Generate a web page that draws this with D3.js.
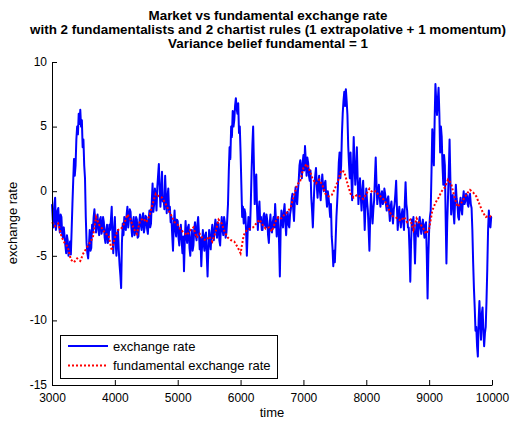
<!DOCTYPE html>
<html><head><meta charset="utf-8">
<script src="https://cdn.jsdelivr.net/npm/d3@7"></script>
<style>
body{margin:0;background:#fff}
svg{display:block}
text{font-family:Arial,"Liberation Sans",Helvetica,sans-serif;fill:#000}
</style>
</head><body>
<svg id="c" width="510" height="423"></svg>
<script>
const titleLines = [
  "Market vs fundamental exchange rate",
  "with 2 fundamentalists and 2 chartist rules (1 extrapolative + 1 momentum)",
  "Variance belief fundamental = 1"
];
const xLabel = "time";
const yLabel = "exchange rate";
const legendLabels = ["exchange rate", "fundamental exchange rate"];
const xTicks = [3000, 4000, 5000, 6000, 7000, 8000, 9000, 10000];
const yTicks = [-15, -10, -5, 0, 5, 10];

// exchange rate, sampled every 12.5 time units from t = 3000 (one row = 100 time units)
const rateStart = 3000, rateStep = 12.5;
const exchangeRate = [
  -1.0, -2.2, -2.8, -1.0, -0.5, -3.0, -2.5, -1.5,
  -1.3, -2.6, -3.2, -1.8, -2.0, -3.4, -3.6, -2.8,
  -3.5, -4.2, -4.8, -3.4, -3.8, -5.0, -4.6, -3.9,
  -4.9, -3.0, -1.0, 0.8, 2.5, 1.2, 2.0, 4.0,
  5.0, 4.4, 6.0, 5.2, 6.3, 5.0, 5.5, 3.4,
  4.0, 2.0, 1.0, -2.0, -4.0, -4.8, -5.2, -4.2,
  -3.0, -4.6, -4.4, -2.6, -3.2, -2.0, -1.4, -2.4,
  -3.2, -2.2, -1.8, -3.0, -3.4, -2.2, -2.0, -3.3,
  -3.0, -2.0, -2.4, -3.6, -4.0, -3.0, -2.6, -4.0,
  -3.8, -2.6, -3.0, -2.2, -1.2, -3.5, -4.8, -3.0,
  -2.0, -4.0, -5.0, -3.6, -3.0, -4.6, -5.7, -6.5,
  -7.5, -4.0, -2.5, -3.4, -2.0, -2.6, -3.0, -1.8,
  -1.2, -2.8, -2.2, -1.4, -1.6, -2.8, -3.5, -2.4,
  -2.0, -3.4, -3.2, -2.0, -2.2, -3.6, -3.5, -2.5,
  -1.8, -2.6, -3.0, -2.0, -1.7, -3.2, -2.8, -1.9,
  -2.0, -2.9, -3.3, -2.2, -1.5, -2.8, -2.5, -0.8,
  0.6, -1.6, -1.0, 0.2, -0.4, -1.5, 0.3, 1.2,
  2.1, 0.2, -1.2, 0.0, 1.5, -0.8, -0.5, -1.4,
  1.2, -0.4, -1.7, -0.5, 0.2, -1.6, -1.2, -2.4,
  -2.0, -3.4, -4.6, -2.6, -1.5, -3.0, -3.5, -2.2,
  -2.3, -3.6, -4.2, -3.0, -2.6, -3.8, -4.8, -3.5,
  -6.2, -3.8, -2.3, -3.5, -4.0, -2.8, -2.6, -4.4,
  -5.0, -3.6, -3.0, -4.6, -4.2, -3.0, -2.4, -3.4,
  -3.8, -2.6, -2.0, -3.2, -4.5, -3.6, -5.8, -4.2,
  -3.0, -4.0, -4.6, -3.4, -3.2, -5.0, -6.6, -4.4,
  -3.0, -4.0, -4.5, -3.2, -2.6, -3.6, -3.8, -2.8,
  -2.2, -3.0, -3.6, -2.4, -2.5, -3.8, -4.2, -2.8,
  -2.0, -3.0, -3.4, -2.0, -2.4, -3.6, -3.2, -2.2,
  -1.0, 1.5, 3.4, 2.5, 5.0, 4.2, 6.2, 5.0,
  5.5, 6.6, 7.2, 6.4, 6.0, 6.8, 4.5, 5.0,
  3.0, 0.5, -2.0, -1.2, -2.5, -1.4, -1.7, -3.0,
  -5.0, -3.2, -2.0, -2.8, -3.0, -1.0, 1.5, 3.5,
  5.0, 2.0, -1.0, 0.2, 1.3, -1.4, -3.0, -1.6,
  -0.8, -2.4, -2.0, -3.0, -3.0, -2.0, -1.7, -2.6,
  -2.8, -1.8, -2.3, -3.4, -4.0, -2.6, -1.8, -3.0,
  -3.2, -2.4, -2.0, -2.8, -1.0, -2.2, -3.5, -2.4,
  -2.0, -4.0, -6.6, -3.0, -1.5, -2.2, -2.8, -1.6,
  -1.0, -2.4, -3.4, -2.0, -1.6, -2.6, -2.8, -1.8,
  -1.4, -0.6, -0.2, -1.4, -2.3, -0.8, 0.3, -0.6,
  -1.0, 0.0, 0.8, 2.0, 2.4, 1.6, 1.0, 2.2,
  2.8, 1.6, 3.5, 2.4, 1.2, 2.6, 2.2, 1.2,
  0.8, 1.6, -0.5, -1.5, -2.8, -1.0, 0.5, 1.2,
  1.8, 0.4, -0.5, 0.6, 1.2, 0.0, -0.7, 0.4,
  1.3, 0.4, 0.0, 0.6, 0.8, -0.4, -1.2, 0.0,
  -0.5, -1.2, -2.0, -1.0, -3.5, -4.4, -5.8, -4.6,
  -5.5, -3.8, -2.0, -0.8, 0.5, 2.2, 3.0, 1.0,
  2.0, 4.4, 6.0, 7.0, 7.7, 6.6, 7.9, 7.0,
  5.9, 3.5, 2.1, 1.0, 3.0, 1.2, -0.7, 1.8,
  4.2, 2.0, 0.5, 1.6, 3.4, 1.0, -1.0, 0.0,
  1.0, -0.4, -1.5, 0.0, 0.8, -1.0, -3.0, -1.2,
  0.2, -0.8, -1.5, -3.0, -4.6, -2.0, -0.2, -1.4,
  -2.5, -1.4, -0.7, 1.0, 2.6, 0.6, -1.0, -0.2,
  0.5, -0.4, -1.2, -0.3, 0.0, -1.0, -0.8, 0.2,
  -0.2, -1.0, -1.5, -0.6, -0.4, -1.4, -2.3, -1.2,
  -0.8, -1.8, -2.5, -1.4, -1.0, -0.2, 0.8, -1.2,
  -3.0, -2.0, -1.2, -2.2, -2.8, -1.8, -1.4, -2.4,
  -3.0, -1.0, 0.7, -1.0, -1.5, -2.8, -2.8, -4.5,
  -7.0, -4.0, -2.2, -3.0, -2.0, -3.6, -5.6, -3.4,
  -2.4, -3.0, -3.5, -2.4, -2.0, -2.8, -3.3, -2.6,
  -2.2, -3.0, -3.6, -2.6, -2.4, -5.0, -8.3, -5.0,
  -3.0, -2.0, -1.5, 1.5, 4.8, 3.2, 2.0, 5.5,
  8.3, 7.0, 5.9, 7.0, 8.0, 6.0, 3.0, 5.0,
  4.2, 2.0, 0.5, 2.8, 2.0, -2.0, -5.6, -2.5,
  -0.5, 1.5, 4.0, 1.0, -1.8, -0.4, -0.3, -1.6,
  -2.5, -0.8, 0.5, -0.6, -1.0, -2.0, -2.2, -1.0,
  -0.5, -1.4, -1.8, -0.6, 0.0, -1.0, -0.8, -0.2,
  -0.3, -1.0, -1.2, -0.4, -0.2, -1.0, -1.3, -3.0,
  -5.5, -7.5, -9.0, -10.8, -10.5, -12.0, -12.8, -10.0,
  -8.5, -10.2, -11.5, -9.5, -9.0, -10.8, -12.0, -11.0,
  -10.5, -8.5, -6.0, -3.0, -1.5, -2.6, -2.8, -2.0,
  -2.0
];

// fundamental exchange rate, sampled every 50 time units from t = 3000
const fundStart = 3000, fundStep = 50;
const fundamentalRate = [
  -2.4, -2.7, -2.5, -3.5, -4.0, -4.3, -5.3, -5.5, -5.2, -5.4,
  -4.8, -4.4, -4.0, -3.6, -2.0, -2.6, -2.9, -3.3, -3.4, -4.6,
  -3.6, -3.0, -2.9, -2.5, -1.8, -2.2, -2.9, -3.3, -2.3, -2.1,
  -2.4, -1.9, -1.0, -0.2, -0.4, -0.5, -0.9, -1.4, -1.9, -2.4,
  -2.6, -3.0, -3.2, -3.4, -3.0, -2.8, -3.6, -3.3, -3.7, -3.8,
  -3.5, -3.9, -3.2, -2.2, -2.5, -3.2, -3.6, -3.8, -3.9, -4.3,
  -4.8, -3.4, -3.0, -2.9, -2.8, -2.5, -2.2, -2.6, -2.9, -2.8,
  -3.1, -2.4, -2.0, -2.1, -1.8, -1.6, -1.2, -0.3, 0.5, 0.8,
  1.8, 2.1, 1.6, 0.9, 0.6, 0.9, 0.5, -0.2, -0.4, -0.3,
  0.2, 0.8, 1.6, 1.5, 0.6, -0.2, -0.5, -0.3, -0.4, -0.6,
  -0.2, 0.2, -0.1, 0.0, -0.3, -0.5, -0.8, -1.3, -1.9, -2.0,
  -2.1, -2.3, -2.0, -2.4, -2.2, -3.0, -2.1, -2.5, -2.8, -3.3,
  -2.9, -1.5, -0.9, -0.5, 0.0, 0.3, 0.9, 0.6, -0.4, -1.2,
  -1.0, -0.6, -0.2, 0.1, -0.1, -0.4, -1.0, -1.6, -2.0, -1.9,
  -2.0
];

const svg = d3.select("#c");
const x = d3.scaleLinear().domain([3000, 10000]).range([52, 492]);
const y = d3.scaleLinear().domain([-15, 10]).range([385, 62]);

// title
svg.append("g").selectAll("text").data(titleLines).join("text")
  .attr("x", 268)
  .attr("y", (d, i) => [20, 34, 47.5][i])
  .attr("text-anchor", "middle")
  .style("font-weight", "bold")
  .style("font-size", "13.4px")
  .text(d => d);

// data lines
const rateLine = d3.line()
  .x((d, i) => x(rateStart + i * rateStep))
  .y(d => y(d));
const fundLine = d3.line()
  .x((d, i) => x(fundStart + i * fundStep))
  .y(d => y(d));

svg.append("path").datum(exchangeRate)
  .attr("d", rateLine)
  .attr("fill", "none")
  .attr("stroke", "#0000ff")
  .attr("stroke-width", 2)
  .attr("stroke-linejoin", "round");

svg.append("path").datum(fundamentalRate)
  .attr("d", fundLine)
  .attr("fill", "none")
  .attr("stroke", "#ff0000")
  .attr("stroke-width", 2)
  .attr("stroke-dasharray", "2,2");

// axes
const xAxis = d3.axisBottom(x).tickValues(xTicks).tickFormat(d => String(d))
  .tickSizeInner(-5).tickSizeOuter(0).tickPadding(8.5);
const yAxis = d3.axisLeft(y).tickValues(yTicks).tickFormat(d => String(d))
  .tickSizeInner(-5).tickSizeOuter(0).tickPadding(5);

const gx = svg.append("g").attr("transform", "translate(0,385)").call(xAxis);
const gy = svg.append("g").attr("transform", "translate(52,0)").call(yAxis);
[gx, gy].forEach(g => {
  g.selectAll("text").style("font-size", "12px").attr("fill", "#000");
  g.selectAll("line").attr("stroke", "#000");
  g.select(".domain").attr("stroke", "#000");
});
gy.selectAll("text").attr("dy", "0.28em");

// axis labels
svg.append("text").attr("x", 272).attr("y", 417)
  .attr("text-anchor", "middle").style("font-size", "13px").text(xLabel);
svg.append("text").attr("transform", "translate(17,223) rotate(-90)")
  .attr("text-anchor", "middle").style("font-size", "13px").text(yLabel);

// legend
const lg = svg.append("g");
lg.append("rect").attr("x", 60.5).attr("y", 335.5).attr("width", 217).attr("height", 43)
  .attr("fill", "#fff").attr("stroke", "#000").attr("stroke-width", 1);
const legendStyles = [
  {color: "#0000ff", dash: null, ly: 346, ty: 350.5},
  {color: "#ff0000", dash: "2,2", ly: 365.5, ty: 370}
];
legendLabels.forEach((lab, i) => {
  const s = legendStyles[i];
  lg.append("line").attr("x1", 68).attr("x2", 108).attr("y1", s.ly).attr("y2", s.ly)
    .attr("stroke", s.color).attr("stroke-width", 2)
    .attr("stroke-dasharray", s.dash);
  lg.append("text").attr("x", 113).attr("y", s.ty).style("font-size", "13px").text(lab);
});
</script>
</body></html>
